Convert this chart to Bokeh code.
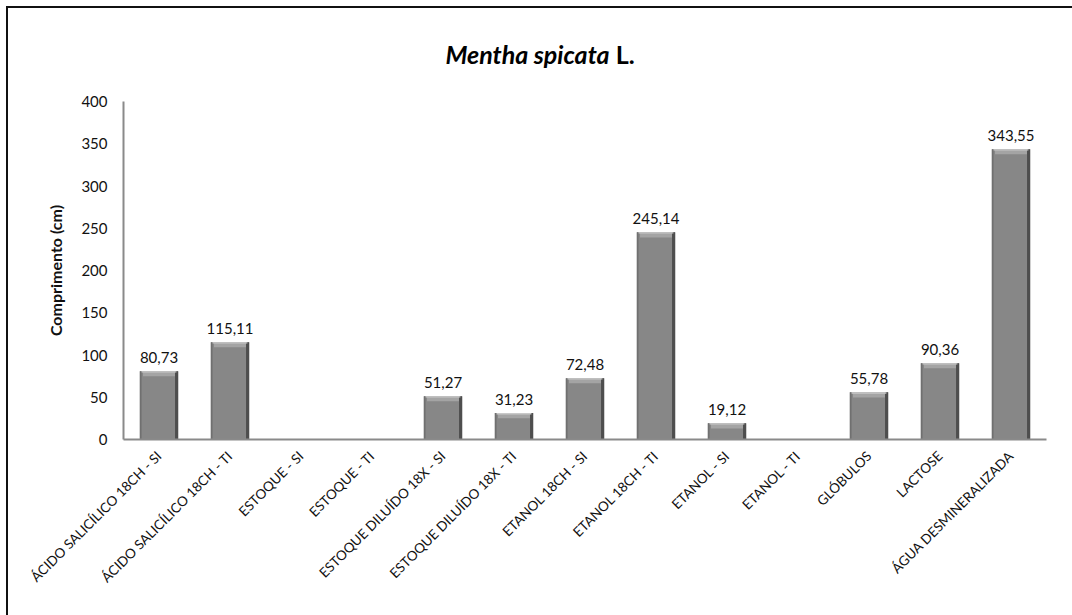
import math
from bokeh.plotting import figure
from bokeh.layouts import column
from bokeh.models import ColumnDataSource, Range1d, FixedTicker, Div
from bokeh.transform import dodge
from bokeh.embed import file_html
from bokeh.resources import INLINE

# Plant length per treatment (cm); None = no measurement
categories = [
    "ÁCIDO SALICÍLICO 18CH - SI",
    "ÁCIDO SALICÍLICO 18CH - TI",
    "ESTOQUE - SI",
    "ESTOQUE - TI",
    "ESTOQUE DILUÍDO 18X - SI",
    "ESTOQUE DILUÍDO 18X - TI",
    "ETANOL 18CH - SI",
    "ETANOL 18CH - TI",
    "ETANOL - SI",
    "ETANOL - TI",
    "GLÓBULOS",
    "LACTOSE",
    "ÁGUA DESMINERALIZADA",
]
values = [80.73, 115.11, None, None, 51.27, 31.23, 72.48, 245.14, 19.12, None, 55.78, 90.36, 343.55]
y_ticks = [0, 50, 100, 150, 200, 250, 300, 350, 400]

FONT = "Lato"
nan = float("nan")
tops = [nan if v is None else v for v in values]
source = ColumnDataSource(dict(
    cat=categories,
    top=tops,
    cap=[t - 6 for t in tops],
    rim=[t - 1.5 for t in tops],
    label=["" if v is None else f"{v:.2f}".replace(".", ",") for v in values],
))

TITLE_H = 80
p = figure(
    x_range=categories,
    y_range=Range1d(0, 400),
    width=1064, height=607 - TITLE_H,
    min_border_left=115, min_border_right=26,
    min_border_top=93 - TITLE_H, min_border_bottom=176,
    output_backend="svg", toolbar_location=None,
    background_fill_color="white", border_fill_color="white",
    outline_line_color=None,
)

BW = 0.54
# bar body
p.vbar(x="cat", top="top", bottom=0, width=BW, source=source,
       fill_color="#878787", line_color=None)
# darker left edge
p.vbar(x=dodge("cat", -BW / 2 + 0.012, range=p.x_range), top="top", bottom=0,
       width=0.024, source=source, fill_color="#707070", line_color=None)
# shaded right edge
p.vbar(x=dodge("cat", BW / 2 - 0.022, range=p.x_range), top="top", bottom=0,
       width=0.044, source=source, fill_color="#4e4e4e", line_color=None)
# bevel at the top of each bar
p.vbar(x="cat", top="top", bottom="cap", width=BW - 0.09, source=source,
       fill_color="#a4a4a4", line_color=None)
p.vbar(x="cat", top="top", bottom="rim", width=BW - 0.05, source=source,
       fill_color="#c9c9c9", line_color=None)

# value labels
p.text(x="cat", y="top", text="label", source=source,
       text_align="center", text_baseline="bottom", y_offset=-8,
       text_font_size="15px", text_color="#111111",
       text_font={"value": FONT})

p.xgrid.visible = False
p.ygrid.visible = False

p.yaxis.ticker = FixedTicker(ticks=y_ticks)
p.yaxis.axis_label = "Comprimento (cm)"
p.yaxis.axis_label_text_font = FONT
p.yaxis.axis_label_text_font_style = "bold"
p.yaxis.axis_label_text_font_size = "16px"
p.yaxis.axis_label_text_color = "#111111"
p.yaxis.axis_label_standoff = 13
p.yaxis.major_label_text_font = FONT
p.yaxis.major_label_text_font_size = "15px"
p.yaxis.major_label_text_color = "#111111"
p.yaxis.major_label_standoff = 16

p.xaxis.major_label_orientation = math.pi / 4
p.xaxis.major_label_text_font = FONT
p.xaxis.major_label_text_font_size = "13.5px"
p.xaxis.major_label_text_color = "#111111"
p.xaxis.major_label_standoff = 14

for ax in (p.xaxis[0], p.yaxis[0]):
    ax.axis_line_color = "#8a8a8a"
    ax.axis_line_width = 2
    ax.major_tick_line_color = None
    ax.minor_tick_line_color = None
    ax.major_tick_out = 0
    ax.major_tick_in = 0

# chart title: italic species name followed by the author abbreviation
title = Div(
    text=('<div style="width:1064px;padding-top:31px;text-align:center;font-family:Lato;'
          'font-size:25px;font-weight:bold;line-height:30px;color:#000;">'
          '<i>Mentha spicata</i> L.</div>'),
    width=1064, height=TITLE_H, margin=0,
    styles={"background-color": "white"},
)

layout = column(
    title, p, spacing=0, margin=(6, 0, 0, 6),
    styles={"border-left": "2px solid #111", "border-top": "2px solid #111",
            "background-color": "white"},
)

open("out.html", "w").write(file_html(layout, INLINE))
